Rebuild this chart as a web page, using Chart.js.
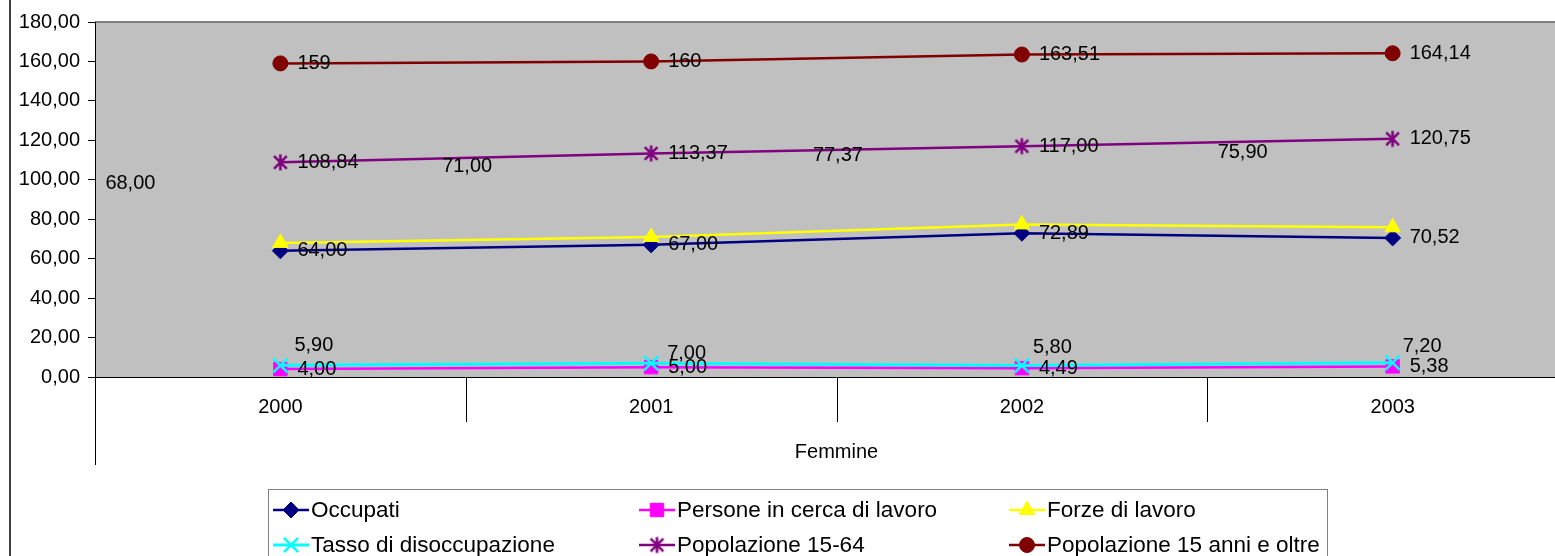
<!DOCTYPE html>
<html>
<head>
<meta charset="utf-8">
<script src="https://cdn.jsdelivr.net/npm/chart.js@4/dist/chart.umd.min.js"></script>
<style>
  html, body { margin: 0; padding: 0; overflow: hidden; background: #fff; }
  #wrap { width: 1600px; height: 556px; position: relative; }
</style>
</head>
<body>
<div id="wrap"><canvas id="c" width="1600" height="556"></canvas></div>
<script>
// Categories and series (values in thousands / percent)
const categories = ['2000', '2001', '2002', '2003'];
const groupLabel = 'Femmine';
const occupati = [64.00, 67.00, 72.89, 70.52];
const personeInCerca = [4.00, 5.00, 4.49, 5.38];
const forzeLavoro = [68.00, 71.00, 77.37, 75.90];
const tassoDisoccupazione = [5.90, 7.00, 5.80, 7.20];
const popolazione1564 = [108.84, 113.37, 117.00, 120.75];
const popolazione15Oltre = [159, 160, 163.51, 164.14];
const yTicks = [0, 20, 40, 60, 80, 100, 120, 140, 160, 180];

const FONT = "'Liberation Sans', Arial, sans-serif";

const fmtFixed = v => v.toFixed(2).replace('.', ',');
const fmtGeneral = v => String(v).replace('.', ',');

// Asterisk marker: vertical bar plus an X
function makeStar(color, size) {
  const cv = document.createElement('canvas');
  cv.width = size; cv.height = size;
  const g = cv.getContext('2d');
  const c = size / 2, r = size / 2 - 1.5;
  const d = r * 0.8;
  g.strokeStyle = color; g.lineWidth = 2.6; g.lineCap = 'butt';
  g.beginPath();
  g.moveTo(c, c - r); g.lineTo(c, c + r);
  g.moveTo(c - d, c - d); g.lineTo(c + d, c + d);
  g.moveTo(c - d, c + d); g.lineTo(c + d, c - d);
  g.stroke();
  return cv;
}
const starMarker = makeStar('#800080', 19);

// Per-series label placement (pixel nudges relative to the point)
const labelStd = { dx: 17, dy: 0 };
const labelPlacement = {
  forze: [{ dx: -175, dy: -59 }, { dx: -209, dy: -70 }, { dx: -209, dy: -69 }, { dx: -175, dy: -75 }],
  tasso: [{ dx: 14, dy: -20 }, { dx: 16, dy: -10 }, { dx: 11, dy: -18 }, { dx: 10, dy: -16 }]
};

function series(label, data, color, style, radius, extra) {
  return Object.assign({
    label, data,
    borderColor: color,
    backgroundColor: color,
    pointBackgroundColor: color,
    pointBorderColor: color,
    borderWidth: 2.5,
    pointStyle: style,
    pointRadius: radius,
    pointHoverRadius: radius,
    pointBorderWidth: 1,
    tension: 0,
    fill: false
  }, extra || {});
}

const datasets = [
  series('Occupati', occupati, '#000080', 'rectRot', 8, { fmt: fmtFixed, place: null }),
  series('Persone in cerca di lavoro', personeInCerca, '#FF00FF', 'rect', 9.5, { fmt: fmtFixed, place: null }),
  series('Forze di lavoro', forzeLavoro, '#FFFF00', 'triangle', 9, { fmt: fmtFixed, place: labelPlacement.forze }),
  series('Tasso di disoccupazione', tassoDisoccupazione, '#00FFFF', 'crossRot', 10, { fmt: fmtFixed, place: labelPlacement.tasso, pointBorderWidth: 2.5, borderWidth: 3 }),
  series('Popolazione 15-64', popolazione1564, '#800080', starMarker, 9, { fmt: fmtFixed, place: null }),
  series('Popolazione 15 anni e oltre', popolazione15Oltre, '#800000', 'circle', 7.5, { fmt: fmtGeneral, place: null })
];
// later series paint over earlier ones
datasets.forEach((d, i) => { d.order = datasets.length - i; });

const decorations = {
  id: 'decorations',
  beforeDraw(chart) {
    const { ctx, chartArea: a } = chart;
    ctx.save();
    ctx.fillStyle = '#ffffff';
    ctx.fillRect(0, 0, chart.width, chart.height);
    // outer frame edge
    ctx.fillStyle = '#404040';
    ctx.fillRect(9, 0, 2, chart.height);
    // plot area
    ctx.fillStyle = '#C0C0C0';
    ctx.fillRect(a.left, a.top, a.right - a.left, a.bottom - a.top);
    ctx.fillStyle = '#808080';
    ctx.fillRect(a.left, a.top - 1, a.right - a.left, 2);
    ctx.restore();
  },
  afterDraw(chart) {
    const { ctx, chartArea: a } = chart;
    const xs = chart.scales.x;
    ctx.save();

    // axes and category boundaries
    ctx.strokeStyle = '#000';
    ctx.lineWidth = 1;
    ctx.beginPath();
    ctx.moveTo(a.left + 0.5, a.top); ctx.lineTo(a.left + 0.5, 465);
    ctx.moveTo(a.left, a.bottom + 0.5); ctx.lineTo(a.right, a.bottom + 0.5);
    for (let i = 0; i < categories.length - 1; i++) {
      const xm = Math.round((xs.getPixelForValue(i) + xs.getPixelForValue(i + 1)) / 2) + 0.5;
      ctx.moveTo(xm, a.bottom); ctx.lineTo(xm, 422);
    }
    ctx.stroke();

    // category labels and group label
    ctx.fillStyle = '#000';
    ctx.font = '20px ' + FONT;
    ctx.textAlign = 'center';
    ctx.textBaseline = 'middle';
    categories.forEach((c, i) => ctx.fillText(c, xs.getPixelForValue(i), 407));
    ctx.fillText(groupLabel, (a.left + a.right) / 2, 452);

    // data labels
    ctx.textAlign = 'left';
    ctx.font = '20px ' + FONT;
    chart.data.datasets.forEach((ds, di) => {
      const meta = chart.getDatasetMeta(di);
      meta.data.forEach((pt, i) => {
        const p = ds.place ? ds.place[i] : labelStd;
        ctx.fillText(ds.fmt(ds.data[i]), pt.x + p.dx, pt.y + p.dy);
      });
    });

    // legend
    const box = { left: 268, top: 489, right: 1327 };
    ctx.fillStyle = '#fff';
    ctx.fillRect(box.left, box.top, box.right - box.left, chart.height - box.top + 5);
    ctx.strokeStyle = '#808080';
    ctx.lineWidth = 1;
    ctx.strokeRect(box.left + 0.5, box.top + 0.5, box.right - box.left, chart.height - box.top + 5);
    const colText = [311, 677, 1047];
    const rowY = [510, 545];
    const sampleLen = 36;
    ctx.font = '22.5px ' + FONT;
    chart.data.datasets.forEach((ds, di) => {
      const col = di % 3, row = Math.floor(di / 3);
      const tx = colText[col], y = rowY[row];
      const sx0 = tx - sampleLen - 2, sx1 = tx - 2;
      ctx.strokeStyle = ds.borderColor;
      ctx.lineWidth = ds.borderWidth;
      ctx.beginPath();
      ctx.moveTo(sx0, y); ctx.lineTo(sx1, y);
      ctx.stroke();
      ctx.fillStyle = ds.pointBackgroundColor;
      ctx.strokeStyle = ds.pointBorderColor;
      ctx.lineWidth = ds.pointBorderWidth;
      Chart.helpers.drawPoint(ctx, {
        pointStyle: ds.pointStyle, radius: ds.pointRadius, rotation: 0, borderWidth: ds.pointBorderWidth
      }, (sx0 + sx1) / 2, y);
      ctx.fillStyle = '#000';
      ctx.textAlign = 'left';
      ctx.textBaseline = 'middle';
      ctx.fillText(ds.label, tx, y + 1);
    });

    ctx.restore();
  }
};

new Chart(document.getElementById('c'), {
  type: 'line',
  data: { labels: categories, datasets },
  options: {
    responsive: false,
    animation: false,
    devicePixelRatio: 1,
    layout: { padding: { top: 22, right: 22, bottom: 0, left: 0 } },
    plugins: { legend: { display: false }, tooltip: { enabled: false } },
    scales: {
      x: {
        type: 'category',
        offset: true,
        ticks: { display: false },
        grid: { display: false },
        border: { display: false },
        afterFit(s) { s.height = 556 - 377; }
      },
      y: {
        min: 0, max: 180,
        afterBuildTicks(s) { s.ticks = yTicks.map(v => ({ value: v })); },
        ticks: {
          callback: v => fmtFixed(v),
          font: { family: FONT, size: 20 },
          color: '#000',
          padding: 8
        },
        grid: { drawOnChartArea: false, tickLength: 7, color: '#000', lineWidth: 1 },
        border: { display: false },
        afterFit(s) { s.width = 95; }
      }
    }
  },
  plugins: [decorations]
});
</script>
</body>
</html>
